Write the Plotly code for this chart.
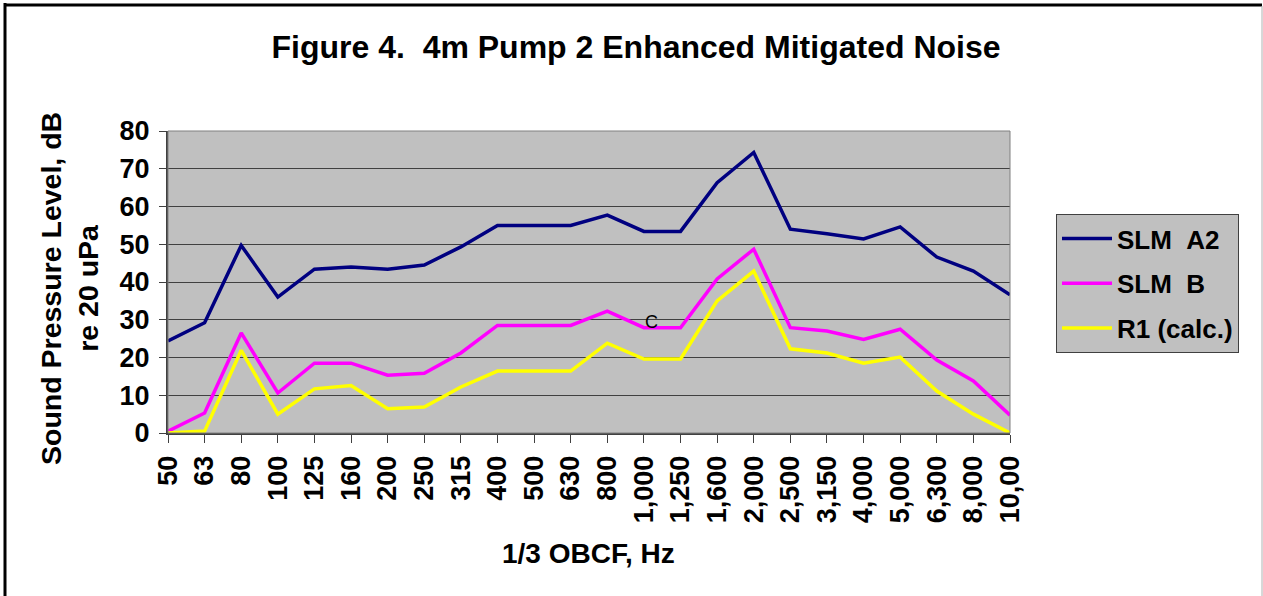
import plotly.graph_objects as go

categories = ["50", "63", "80", "100", "125", "160", "200", "250", "315", "400", "500", "630",
              "800", "1,000", "1,250", "1,600", "2,000", "2,500", "3,150", "4,000", "5,000",
              "6,300", "8,000", "10,00"]
slm_a2 = [24.4, 29.2, 49.7, 36.0, 43.4, 44.0, 43.4, 44.5, 49.3, 55.0, 55.0, 55.0,
          57.7, 53.4, 53.4, 66.3, 74.3, 54.0, 52.8, 51.4, 54.6, 46.6, 42.9, 36.6]
slm_b = [0.5, 5.3, 26.5, 10.6, 18.5, 18.5, 15.3, 15.8, 21.2, 28.5, 28.5, 28.5,
         32.3, 27.9, 27.9, 40.8, 48.7, 27.9, 27.0, 24.8, 27.5, 19.3, 13.8, 4.7]
r1_calc = [0.0, 0.5, 21.9, 5.0, 11.7, 12.6, 6.4, 6.9, 12.2, 16.4, 16.4, 16.4,
           23.8, 19.6, 19.6, 35.0, 42.9, 22.3, 21.2, 18.5, 20.1, 11.1, 5.0, 0.0]

series = [("SLM\u00a0\u00a0A2", slm_a2, "#000080"),
          ("SLM\u00a0\u00a0B", slm_b, "#FF00FF"),
          ("R1 (calc.)", r1_calc, "#FFFF00")]

W, H = 1263, 596
L, R, T, B = 168, 1010, 131, 433
pw, ph = R - L, B - T

def px(x):
    return (x - L) / pw

def py(y):
    return (B - y) / ph

FONT = "Liberation Sans, Arial, sans-serif"

fig = go.Figure()
for i, (name, vals, col) in enumerate(series):
    fig.add_trace(go.Scatter(x=categories, y=vals, mode="lines", name=name,
                             legendgroup=f"g{i}",
                             line=dict(color=col, width=3.5)))

fig.update_layout(
    width=W, height=H,
    margin=dict(l=L, r=W - R, t=T, b=H - B, pad=0),
    paper_bgcolor="white",
    plot_bgcolor="#C0C0C0",
    font=dict(family=FONT, color="black"),
    title=dict(text="<b>Figure 4.\u00a0\u00a04m Pump 2 Enhanced Mitigated Noise</b>",
               font=dict(size=32, family=FONT, color="black"),
               xref="container", yref="container",
               x=636 / W, y=1 - 47 / H, xanchor="center", yanchor="middle"),
    showlegend=True,
    legend=dict(x=px(1056), y=py(214), xanchor="left", yanchor="top",
                bgcolor="#C0C0C0", bordercolor="#404040", borderwidth=1,
                font=dict(size=26, family=FONT, color="black", weight="bold"),
                traceorder="grouped", tracegroupgap=8, itemwidth=50),
    xaxis=dict(type="category", range=[0, len(categories) - 1],
               showgrid=False, showline=True, linecolor="#404040", linewidth=2,
               ticks="outside", ticklen=8, tickcolor="#404040", tickwidth=1,
               tickangle=-90, ticklabelstandoff=2,
               tickfont=dict(size=27, family=FONT, color="black", weight="bold"),
               zeroline=False),
    yaxis=dict(range=[0, 80], dtick=10, showgrid=True, gridcolor="#404040", gridwidth=1,
               showline=True, linecolor="#404040", linewidth=2,
               ticks="outside", ticklen=7, tickcolor="#404040", tickwidth=1,
               ticklabelstandoff=4,
               tickfont=dict(size=27, family=FONT, color="black", weight="bold"),
               zeroline=False),
    shapes=[
        # plot frame top/right
        dict(type="rect", xref="paper", yref="paper", x0=0, x1=1, y0=0, y1=1,
             line=dict(color="#808080", width=1), layer="above"),
        # outer chart border
        dict(type="line", xref="paper", yref="paper", x0=px(5), x1=px(5), y0=py(3), y1=py(600),
             line=dict(color="black", width=3)),
        dict(type="line", xref="paper", yref="paper", x0=px(4), x1=px(1262), y0=py(5), y1=py(5),
             line=dict(color="black", width=3)),
        dict(type="line", xref="paper", yref="paper", x0=px(1262), x1=px(1262), y0=py(6), y1=py(600),
             line=dict(color="#B0B0B0", width=1)),
    ],
    annotations=[
        dict(text="<b>Sound Pressure Level, dB<br>re 20 uPa</b>", textangle=-90,
             xref="paper", yref="paper", x=px(69), y=py(289),
             xanchor="center", yanchor="middle", showarrow=False,
             font=dict(size=28.5, family=FONT, color="black")),
        dict(text="<b>1/3 OBCF, Hz</b>", xref="paper", yref="paper",
             x=px(588), y=py(553), xanchor="center", yanchor="middle", showarrow=False,
             font=dict(size=28, family=FONT, color="black")),
        dict(text="C", xref="x", yref="y", x=13.2, y=29.4,
             xanchor="center", yanchor="middle", showarrow=False,
             font=dict(size=18, family=FONT, color="black")),
    ],
)

fig.write_html("out.html", config={"displayModeBar": False},
               post_script="document.body.style.margin='0';document.body.style.overflow='hidden';")
